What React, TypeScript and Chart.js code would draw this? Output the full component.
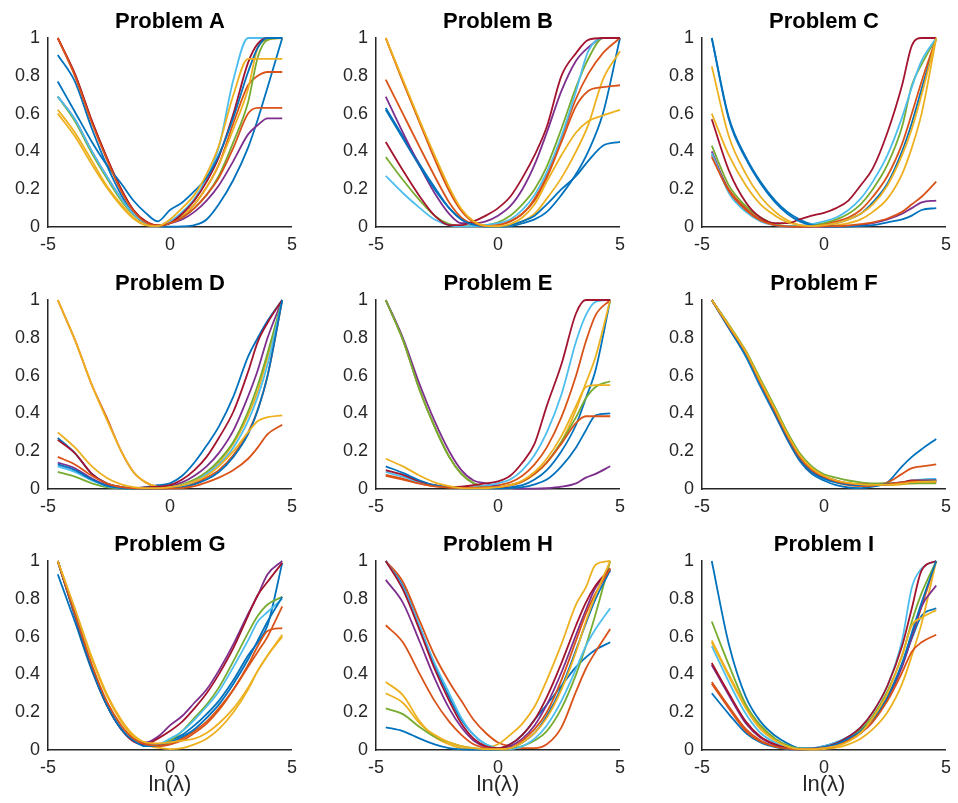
import React, { useEffect, useRef } from "react";
import { Chart, registerables } from "chart.js";

Chart.register(...registerables);

// ln(lambda) sample positions
const LN_LAMBDA = [-4.6, -3.9, -3.2, -2.6, -2.0, -1.5, -1.0, -0.5, 0, 0.5, 1.0, 1.5, 2.0, 2.6, 3.2, 3.6, 4.0, 4.6];
const LN_LAMBDA_B = [-4.6, -3.9, -3.2, -2.6, -2.0, -1.5, -1.0, -0.5, 0, 0.5, 1.0, 1.5, 2.0, 2.6, 3.2, 3.7, 4.3, 5.0];

const X_TICKS = [-5, 0, 5];
const Y_TICKS = [0, 0.2, 0.4, 0.6, 0.8, 1];
const X_LABEL = "ln(λ)";

const LINE_COLORS = [
  "#0072BD", "#D95319", "#EDB120", "#7E2F8E", "#77AC30",
  "#4DBEEE", "#A2142F", "#0072BD", "#D95319", "#EDB120",
];

const TITLES = [
  "Problem A", "Problem B", "Problem C",
  "Problem D", "Problem E", "Problem F",
  "Problem G", "Problem H", "Problem I",
];

const problemA = [
  [0.91, 0.77, 0.52, 0.33, 0.17, 0.07, 0.02, 0.005, 0.002, 0.003, 0.01, 0.04, 0.12, 0.25, 0.42, 0.57, 0.74, 1.0],
  [1.0, 0.81, 0.56, 0.37, 0.2, 0.09, 0.03, 0.008, 0.02, 0.06, 0.12, 0.21, 0.33, 0.55, 0.75, 0.8, 0.82, 0.82],
  [0.6, 0.48, 0.33, 0.21, 0.11, 0.045, 0.01, 0.005, 0.02, 0.06, 0.12, 0.21, 0.33, 0.52, 0.73, 0.95, 0.99, 1.0],
  [0.69, 0.57, 0.4, 0.27, 0.15, 0.07, 0.02, 0.005, 0.02, 0.04, 0.08, 0.14, 0.22, 0.35, 0.49, 0.54, 0.575, 0.575],
  [0.69, 0.56, 0.39, 0.26, 0.14, 0.065, 0.02, 0.005, 0.02, 0.05, 0.1, 0.17, 0.27, 0.45, 0.66, 0.9, 0.99, 1.0],
  [0.69, 0.57, 0.4, 0.27, 0.15, 0.07, 0.02, 0.006, 0.03, 0.08, 0.15, 0.26, 0.42, 0.78, 1.0, 1.0, 1.0, 1.0],
  [1.0, 0.81, 0.56, 0.37, 0.2, 0.09, 0.03, 0.008, 0.02, 0.07, 0.14, 0.24, 0.37, 0.6, 0.87, 0.97, 1.0, 1.0],
  [0.77, 0.61, 0.45, 0.33, 0.23, 0.14, 0.075, 0.03, 0.09, 0.13, 0.19, 0.26, 0.38, 0.58, 0.82, 0.95, 1.0, 1.0],
  [1.0, 0.8, 0.55, 0.36, 0.19, 0.085, 0.025, 0.007, 0.02, 0.05, 0.1, 0.17, 0.26, 0.42, 0.6, 0.63, 0.63, 0.63],
  [0.62, 0.5, 0.35, 0.22, 0.12, 0.05, 0.012, 0.005, 0.04, 0.1, 0.17, 0.28, 0.43, 0.7, 0.89, 0.89, 0.89, 0.89],
];

const problemB = [
  [0.63, 0.48, 0.33, 0.21, 0.1, 0.04, 0.01, 0.003, 0.002, 0.005, 0.02, 0.04, 0.08, 0.17, 0.28, 0.4, 0.6, 1.0],
  [0.78, 0.6, 0.42, 0.27, 0.13, 0.05, 0.015, 0.005, 0.01, 0.03, 0.07, 0.15, 0.27, 0.47, 0.68, 0.81, 0.92, 1.0],
  [1.0, 0.77, 0.55, 0.37, 0.2, 0.09, 0.03, 0.005, 0.003, 0.01, 0.03, 0.07, 0.15, 0.26, 0.4, 0.54, 0.78, 0.93],
  [0.69, 0.5, 0.32, 0.18, 0.07, 0.02, 0.02, 0.03, 0.06, 0.11, 0.2, 0.33, 0.5, 0.72, 0.88, 0.95, 1.0, 1.0],
  [0.37, 0.25, 0.14, 0.06, 0.015, 0.005, 0.005, 0.01, 0.025, 0.06, 0.12, 0.2, 0.32, 0.52, 0.74, 0.89, 1.0, 1.0],
  [0.27, 0.18, 0.1, 0.04, 0.01, 0.003, 0.004, 0.01, 0.02, 0.04, 0.09, 0.17, 0.29, 0.48, 0.72, 0.93, 1.0, 1.0],
  [0.45, 0.3, 0.16, 0.06, 0.01, 0.01, 0.03, 0.06, 0.1, 0.16, 0.26, 0.38, 0.53, 0.8, 0.92, 0.99, 1.0, 1.0],
  [0.62, 0.47, 0.32, 0.2, 0.1, 0.04, 0.012, 0.004, 0.003, 0.01, 0.03, 0.06, 0.12, 0.2, 0.27, 0.35, 0.43, 0.45],
  [1.0, 0.77, 0.55, 0.36, 0.19, 0.085, 0.025, 0.006, 0.01, 0.03, 0.07, 0.14, 0.26, 0.45, 0.64, 0.72, 0.74, 0.75],
  [1.0, 0.78, 0.56, 0.38, 0.21, 0.095, 0.03, 0.006, 0.004, 0.015, 0.05, 0.12, 0.24, 0.38, 0.5, 0.56, 0.59, 0.62],
];

const problemC = [
  [1.0, 0.58, 0.37, 0.24, 0.14, 0.08, 0.04, 0.015, 0.01, 0.02, 0.04, 0.07, 0.13, 0.23, 0.4, 0.55, 0.73, 1.0],
  [0.38, 0.2, 0.1, 0.04, 0.012, 0.004, 0.003, 0.005, 0.015, 0.03, 0.05, 0.09, 0.16, 0.27, 0.44, 0.6, 0.77, 1.0],
  [0.85, 0.48, 0.28, 0.16, 0.08, 0.035, 0.01, 0.003, 0.005, 0.01, 0.02, 0.04, 0.08, 0.15, 0.28, 0.42, 0.6, 1.0],
  [0.4, 0.19, 0.09, 0.035, 0.01, 0.003, 0.002, 0.002, 0.002, 0.003, 0.005, 0.01, 0.02, 0.04, 0.07, 0.1, 0.13, 0.14],
  [0.43, 0.22, 0.11, 0.05, 0.015, 0.005, 0.004, 0.01, 0.02, 0.04, 0.07, 0.12, 0.2, 0.33, 0.53, 0.75, 0.86, 1.0],
  [0.39, 0.18, 0.08, 0.03, 0.01, 0.004, 0.006, 0.015, 0.03, 0.05, 0.09, 0.15, 0.24, 0.38, 0.58, 0.74, 0.88, 1.0],
  [0.57, 0.3, 0.13, 0.05, 0.02, 0.02, 0.04, 0.06, 0.075, 0.1, 0.14, 0.22, 0.31, 0.5, 0.75, 0.96, 1.0, 1.0],
  [1.0, 0.57, 0.36, 0.23, 0.13, 0.07, 0.03, 0.01, 0.004, 0.002, 0.002, 0.005, 0.01, 0.025, 0.04, 0.06, 0.09, 0.1],
  [0.37, 0.19, 0.09, 0.035, 0.01, 0.003, 0.002, 0.003, 0.005, 0.005, 0.008, 0.015, 0.025, 0.045, 0.08, 0.12, 0.16, 0.24],
  [0.6, 0.38, 0.22, 0.12, 0.06, 0.025, 0.01, 0.005, 0.01, 0.02, 0.04, 0.07, 0.12, 0.22, 0.38, 0.52, 0.7, 1.0],
];

const problemD = [
  [0.27, 0.19, 0.08, 0.03, 0.01, 0.005, 0.01, 0.02, 0.03, 0.07, 0.14, 0.23, 0.33, 0.49, 0.7, 0.8, 0.89, 1.0],
  [1.0, 0.79, 0.55, 0.38, 0.2, 0.09, 0.035, 0.01, 0.005, 0.01, 0.03, 0.06, 0.1, 0.18, 0.3, 0.42, 0.6, 1.0],
  [1.0, 0.79, 0.55, 0.37, 0.2, 0.09, 0.035, 0.012, 0.01, 0.02, 0.045, 0.08, 0.14, 0.24, 0.39, 0.52, 0.7, 1.0],
  [0.14, 0.11, 0.055, 0.02, 0.005, 0.003, 0.005, 0.01, 0.015, 0.035, 0.07, 0.12, 0.19, 0.31, 0.49, 0.63, 0.8, 1.0],
  [0.09, 0.065, 0.03, 0.01, 0.003, 0.002, 0.003, 0.006, 0.01, 0.025, 0.05, 0.09, 0.15, 0.25, 0.41, 0.55, 0.72, 1.0],
  [0.12, 0.09, 0.045, 0.015, 0.005, 0.002, 0.003, 0.005, 0.01, 0.02, 0.04, 0.08, 0.13, 0.22, 0.36, 0.49, 0.66, 1.0],
  [0.26, 0.19, 0.08, 0.03, 0.01, 0.005, 0.008, 0.012, 0.02, 0.05, 0.1, 0.17, 0.27, 0.41, 0.62, 0.78, 0.88, 1.0],
  [0.13, 0.1, 0.05, 0.018, 0.005, 0.002, 0.002, 0.003, 0.005, 0.01, 0.025, 0.05, 0.09, 0.17, 0.29, 0.42, 0.6, 1.0],
  [0.17, 0.13, 0.07, 0.03, 0.01, 0.003, 0.002, 0.002, 0.003, 0.005, 0.015, 0.035, 0.06, 0.1, 0.16, 0.22, 0.29, 0.34],
  [0.3, 0.22, 0.12, 0.06, 0.025, 0.01, 0.005, 0.005, 0.01, 0.02, 0.04, 0.07, 0.12, 0.2, 0.3, 0.36, 0.38, 0.39],
];

const problemE = [
  [1.0, 0.79, 0.52, 0.33, 0.17, 0.08, 0.03, 0.01, 0.005, 0.01, 0.02, 0.05, 0.1, 0.2, 0.34, 0.48, 0.63, 1.0],
  [0.075, 0.055, 0.03, 0.015, 0.008, 0.006, 0.008, 0.012, 0.02, 0.035, 0.07, 0.13, 0.22, 0.38, 0.6, 0.78, 0.92, 1.0],
  [1.0, 0.79, 0.52, 0.33, 0.17, 0.08, 0.03, 0.01, 0.01, 0.02, 0.04, 0.08, 0.14, 0.25, 0.42, 0.56, 0.7, 1.0],
  [1.0, 0.8, 0.55, 0.36, 0.2, 0.1, 0.045, 0.03, 0.015, 0.005, 0.002, 0.002, 0.004, 0.012, 0.03, 0.06, 0.08, 0.12],
  [1.0, 0.79, 0.52, 0.33, 0.17, 0.08, 0.03, 0.01, 0.01, 0.02, 0.04, 0.08, 0.14, 0.25, 0.38, 0.48, 0.54, 0.57],
  [0.09, 0.065, 0.035, 0.017, 0.01, 0.008, 0.01, 0.018, 0.03, 0.05, 0.1, 0.18, 0.3, 0.5, 0.78, 0.92, 0.99, 1.0],
  [0.1, 0.075, 0.04, 0.02, 0.01, 0.012, 0.02, 0.03, 0.04, 0.07, 0.14, 0.24, 0.44, 0.66, 0.93, 1.0, 1.0, 1.0],
  [0.12, 0.085, 0.045, 0.02, 0.01, 0.005, 0.003, 0.003, 0.003, 0.005, 0.01, 0.025, 0.05, 0.12, 0.22, 0.31, 0.39, 0.4],
  [0.07, 0.05, 0.028, 0.014, 0.008, 0.006, 0.007, 0.01, 0.01, 0.02, 0.04, 0.08, 0.14, 0.24, 0.35, 0.385, 0.385, 0.385],
  [0.16, 0.12, 0.07, 0.035, 0.015, 0.005, 0.003, 0.004, 0.01, 0.02, 0.045, 0.09, 0.16, 0.28, 0.44, 0.54, 0.55, 0.55],
];

const problemF = [
  [1.0, 0.85, 0.7, 0.54, 0.39, 0.26, 0.15, 0.08, 0.045, 0.02, 0.008, 0.005, 0.012, 0.035, 0.12, 0.17, 0.21, 0.265],
  [1.0, 0.86, 0.72, 0.56, 0.41, 0.28, 0.17, 0.1, 0.06, 0.035, 0.02, 0.015, 0.018, 0.035, 0.08, 0.11, 0.12, 0.13],
  [1.0, 0.86, 0.72, 0.57, 0.42, 0.29, 0.18, 0.11, 0.07, 0.045, 0.03, 0.022, 0.02, 0.02, 0.025, 0.03, 0.032, 0.035],
  [1.0, 0.86, 0.72, 0.56, 0.41, 0.28, 0.17, 0.1, 0.065, 0.045, 0.03, 0.025, 0.025, 0.03, 0.035, 0.04, 0.045, 0.045],
  [1.0, 0.87, 0.73, 0.58, 0.43, 0.3, 0.19, 0.12, 0.078, 0.06, 0.045, 0.035, 0.03, 0.03, 0.03, 0.03, 0.03, 0.03],
  [1.0, 0.86, 0.71, 0.55, 0.4, 0.27, 0.16, 0.09, 0.055, 0.035, 0.025, 0.02, 0.02, 0.025, 0.035, 0.045, 0.05, 0.055],
  [1.0, 0.86, 0.72, 0.56, 0.4, 0.27, 0.16, 0.09, 0.06, 0.04, 0.025, 0.02, 0.02, 0.025, 0.035, 0.045, 0.045, 0.045],
  [1.0, 0.855, 0.71, 0.55, 0.4, 0.27, 0.16, 0.09, 0.055, 0.035, 0.025, 0.02, 0.02, 0.025, 0.03, 0.035, 0.04, 0.045],
  [1.0, 0.86, 0.72, 0.56, 0.41, 0.28, 0.17, 0.1, 0.065, 0.04, 0.03, 0.025, 0.022, 0.025, 0.035, 0.04, 0.04, 0.04],
  [1.0, 0.865, 0.725, 0.57, 0.42, 0.29, 0.18, 0.11, 0.07, 0.045, 0.032, 0.025, 0.022, 0.022, 0.028, 0.035, 0.038, 0.04],
];

const problemG = [
  [0.93, 0.68, 0.42, 0.24, 0.11, 0.05, 0.02, 0.02, 0.05, 0.08, 0.13, 0.19, 0.26, 0.37, 0.5, 0.57, 0.66, 0.99],
  [1.0, 0.72, 0.44, 0.25, 0.12, 0.06, 0.025, 0.02, 0.03, 0.06, 0.1, 0.15, 0.22, 0.32, 0.44, 0.52, 0.6, 0.76],
  [1.0, 0.74, 0.48, 0.29, 0.15, 0.07, 0.03, 0.012, 0.005, 0.01, 0.03, 0.06, 0.11, 0.2, 0.32, 0.42, 0.5, 0.61],
  [1.0, 0.72, 0.44, 0.25, 0.12, 0.05, 0.04, 0.07, 0.13, 0.18, 0.25, 0.32, 0.42, 0.56, 0.72, 0.82, 0.93, 1.0],
  [1.0, 0.72, 0.44, 0.25, 0.12, 0.055, 0.025, 0.03, 0.05, 0.1, 0.17, 0.24, 0.33, 0.47, 0.62, 0.71, 0.77, 0.81],
  [1.0, 0.72, 0.44, 0.25, 0.12, 0.055, 0.025, 0.03, 0.06, 0.1, 0.16, 0.23, 0.31, 0.44, 0.58, 0.68, 0.73, 0.8],
  [1.0, 0.71, 0.43, 0.24, 0.11, 0.045, 0.03, 0.06, 0.1, 0.15, 0.22, 0.3, 0.4, 0.54, 0.71, 0.82, 0.89, 0.99],
  [1.0, 0.71, 0.43, 0.24, 0.11, 0.05, 0.02, 0.025, 0.04, 0.07, 0.11, 0.17, 0.24, 0.35, 0.48, 0.58, 0.68, 0.81],
  [1.0, 0.72, 0.45, 0.26, 0.13, 0.06, 0.03, 0.025, 0.03, 0.05, 0.09, 0.14, 0.21, 0.32, 0.45, 0.55, 0.63, 0.645],
  [1.0, 0.75, 0.49, 0.3, 0.16, 0.08, 0.04, 0.035, 0.04, 0.05, 0.06, 0.09, 0.14, 0.22, 0.33, 0.42, 0.5, 0.6],
];

const problemH = [
  [1.0, 0.87, 0.65, 0.45, 0.28, 0.16, 0.08, 0.03, 0.01, 0.03, 0.08, 0.16, 0.24, 0.34, 0.44, 0.49, 0.53, 0.57],
  [1.0, 0.89, 0.68, 0.5, 0.36, 0.26, 0.16, 0.09, 0.04, 0.02, 0.01, 0.01, 0.03, 0.12, 0.31, 0.43, 0.52, 0.64],
  [0.36, 0.29, 0.15, 0.07, 0.03, 0.01, 0.005, 0.01, 0.03, 0.08, 0.14, 0.23, 0.37, 0.56, 0.77, 0.86, 0.98, 1.0],
  [0.9, 0.78, 0.57, 0.38, 0.22, 0.12, 0.05, 0.015, 0.005, 0.02, 0.06, 0.13, 0.24, 0.41, 0.61, 0.74, 0.86, 0.95],
  [0.22, 0.19, 0.12, 0.07, 0.04, 0.02, 0.01, 0.005, 0.003, 0.005, 0.02, 0.05, 0.1, 0.22, 0.4, 0.55, 0.72, 1.0],
  [1.0, 0.86, 0.65, 0.46, 0.3, 0.17, 0.08, 0.03, 0.01, 0.005, 0.02, 0.06, 0.13, 0.26, 0.43, 0.55, 0.64, 0.75],
  [1.0, 0.85, 0.63, 0.43, 0.26, 0.14, 0.06, 0.02, 0.01, 0.03, 0.08, 0.16, 0.28, 0.46, 0.66, 0.78, 0.87, 0.96],
  [0.12, 0.1, 0.06, 0.03, 0.01, 0.003, 0.002, 0.002, 0.003, 0.01, 0.04, 0.09, 0.18, 0.33, 0.53, 0.67, 0.8, 0.95],
  [0.66, 0.57, 0.4, 0.26, 0.15, 0.08, 0.03, 0.01, 0.005, 0.01, 0.05, 0.11, 0.2, 0.37, 0.58, 0.72, 0.83, 0.96],
  [0.3, 0.25, 0.14, 0.08, 0.04, 0.02, 0.01, 0.005, 0.005, 0.01, 0.04, 0.09, 0.17, 0.32, 0.52, 0.68, 0.82, 1.0],
];

const problemI = [
  [1.0, 0.56, 0.28, 0.15, 0.075, 0.035, 0.01, 0.01, 0.02, 0.04, 0.07, 0.11, 0.16, 0.28, 0.45, 0.59, 0.71, 0.75],
  [0.36, 0.23, 0.11, 0.05, 0.02, 0.008, 0.004, 0.006, 0.01, 0.025, 0.05, 0.09, 0.16, 0.28, 0.45, 0.6, 0.76, 1.0],
  [0.58, 0.4, 0.23, 0.12, 0.055, 0.02, 0.006, 0.004, 0.005, 0.012, 0.03, 0.06, 0.11, 0.2, 0.35, 0.5, 0.67, 1.0],
  [0.45, 0.29, 0.14, 0.065, 0.028, 0.01, 0.004, 0.005, 0.01, 0.025, 0.05, 0.09, 0.15, 0.27, 0.44, 0.6, 0.76, 0.87],
  [0.68, 0.45, 0.24, 0.13, 0.06, 0.025, 0.008, 0.006, 0.015, 0.03, 0.06, 0.11, 0.18, 0.31, 0.5, 0.68, 0.83, 1.0],
  [0.55, 0.36, 0.19, 0.09, 0.04, 0.015, 0.006, 0.008, 0.02, 0.04, 0.07, 0.12, 0.2, 0.34, 0.58, 0.86, 0.96, 1.0],
  [0.46, 0.3, 0.15, 0.07, 0.03, 0.01, 0.005, 0.007, 0.015, 0.035, 0.07, 0.12, 0.2, 0.34, 0.55, 0.75, 0.95, 1.0],
  [0.3, 0.19, 0.09, 0.04, 0.015, 0.005, 0.003, 0.006, 0.015, 0.03, 0.06, 0.1, 0.16, 0.28, 0.46, 0.62, 0.78, 1.0],
  [0.35, 0.22, 0.1, 0.045, 0.018, 0.007, 0.004, 0.006, 0.01, 0.02, 0.05, 0.09, 0.15, 0.26, 0.41, 0.52, 0.57, 0.61],
  [0.57, 0.39, 0.22, 0.11, 0.05, 0.018, 0.005, 0.004, 0.01, 0.02, 0.045, 0.09, 0.17, 0.3, 0.5, 0.66, 0.7, 0.74],
];

const PANEL_SERIES = [problemA, problemB, problemC, problemD, problemE, problemF, problemG, problemH, problemI];
const PANEL_X = [LN_LAMBDA, LN_LAMBDA_B, LN_LAMBDA, LN_LAMBDA, LN_LAMBDA, LN_LAMBDA, LN_LAMBDA, LN_LAMBDA, LN_LAMBDA];

const FONT = "'Liberation Sans', Arial, Helvetica, sans-serif";
const COL_LEFT = [48, 376, 702];
const ROW_TOP = [38, 300, 561];
const PLOT_W = 248;
const PLOT_H = 189;
const AXIS_W = 48;
const TITLE_H = 38;
const RIGHT_PAD = 8;
const PAGE_H = 803;

function Panel({ idx }: { idx: number }) {
  const ref = useRef<HTMLCanvasElement>(null);
  const row = Math.floor(idx / 3);
  const col = idx % 3;
  const bottomRow = row === 2;
  const xAxisH = bottomRow ? PAGE_H - (ROW_TOP[2] + PLOT_H) : 30;
  const width = AXIS_W + PLOT_W + RIGHT_PAD;
  const height = TITLE_H + PLOT_H + xAxisH;
  const left = COL_LEFT[col] - AXIS_W;
  const top = ROW_TOP[row] - TITLE_H;

  useEffect(() => {
    if (!ref.current) return;
    const xs = PANEL_X[idx];
    const series = PANEL_SERIES[idx];
    const chart = new Chart(ref.current, {
      type: "line",
      data: {
        datasets: series.map((ys, i) => ({
          label: `${TITLES[idx]} ${i + 1}`,
          data: ys.map((y, j) => ({ x: xs[j], y })),
          borderColor: LINE_COLORS[i],
          backgroundColor: LINE_COLORS[i],
          borderWidth: 1.8,
          pointRadius: 0,
          fill: false,
          cubicInterpolationMode: "monotone" as const,
          clip: false as any,
          order: -i,
        })),
      },
      options: {
        responsive: false,
        animation: false,
        devicePixelRatio: 1,
        layout: { padding: { top: 0, left: 0, right: RIGHT_PAD, bottom: 0 } },
        plugins: {
          legend: { display: false },
          tooltip: { enabled: false },
          title: {
            display: true,
            text: TITLES[idx],
            fullSize: false,
            color: "#000000",
            font: { family: FONT, size: 22, weight: "bold", lineHeight: 1.2 },
            padding: { top: 9, bottom: 2.6 },
          },
        },
        scales: {
          x: {
            type: "linear",
            min: -5,
            max: 5,
            afterBuildTicks: (s: any) => {
              s.ticks = X_TICKS.map((v) => ({ value: v }));
            },
            afterFit: (s: any) => {
              s.height = xAxisH;
            },
            grid: { display: false, drawTicks: false },
            border: { display: true, color: "#262626", width: 1.5 },
            ticks: {
              color: "#262626",
              font: { family: FONT, size: 18 },
              padding: 7,
              maxRotation: 0,
              autoSkip: false,
              callback: (v: any) => String(v),
            },
            title: {
              display: bottomRow,
              text: X_LABEL,
              color: "#262626",
              font: { family: FONT, size: 22 },
              padding: { top: 0, bottom: 4.4 },
            },
          },
          y: {
            type: "linear",
            min: 0,
            max: 1,
            afterBuildTicks: (s: any) => {
              s.ticks = Y_TICKS.map((v) => ({ value: v }));
            },
            afterFit: (s: any) => {
              s.width = AXIS_W;
            },
            grid: { display: false, drawTicks: false },
            border: { display: true, color: "#262626", width: 1.5 },
            ticks: {
              color: "#262626",
              font: { family: FONT, size: 18 },
              padding: 8,
              autoSkip: false,
              callback: (v: any) => String(v),
            },
          },
        },
      },
    } as any);
    return () => chart.destroy();
  }, [idx]);

  return (
    <canvas
      ref={ref}
      width={width}
      height={height}
      style={{ position: "absolute", left, top, width, height }}
    />
  );
}

export default function App() {
  return (
    <div
      style={{
        position: "absolute",
        left: 0,
        top: 0,
        width: 958,
        height: 803,
        overflow: "hidden",
        background: "#ffffff",
      }}
    >
      {TITLES.map((_, i) => (
        <Panel key={i} idx={i} />
      ))}
    </div>
  );
}
